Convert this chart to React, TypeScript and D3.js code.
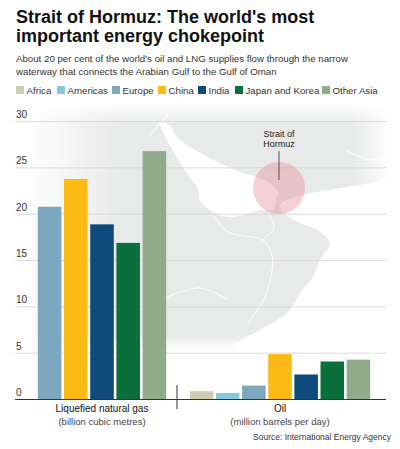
import React from 'react';
import * as d3 from 'd3';

const categories = ['Africa', 'Americas', 'Europe', 'China', 'India', 'Japan and Korea', 'Other Asia'];
const colors = ['#cfccb2', '#86c9dc', '#7da6bf', '#fcbb14', '#0e4a7b', '#0a6f3b', '#8fab89'];

// LNG, billion cubic metres (no Africa / Americas bars)
const lngCategories = ['Europe', 'China', 'India', 'Japan and Korea', 'Other Asia'];
const lngValues = [20.8, 23.8, 18.9, 16.9, 26.8];

// Oil, million barrels per day
const oilCategories = categories;
const oilValues = [0.9, 0.7, 1.5, 4.9, 2.7, 4.1, 4.3];

const yTicks = [0, 5, 10, 15, 20, 25, 30];

const FONT = '"Liberation Sans", Arial, sans-serif';

const W = 400;
const H = 449;

const colorOf = d3.scaleOrdinal<string, string>().domain(categories).range(colors);

// rough decorative map of the Gulf region (pixel space)
const persianGulf: [number, number][] = [
  [160, 122], [170, 126], [177, 137], [200, 153], [220, 163], [240, 172], [257, 177],
  [270, 183], [278, 192], [276, 200], [273, 210], [260, 210], [243, 215], [227, 217],
  [210, 210], [200, 200], [197, 187], [190, 178], [183, 167], [167, 140],
];
const omanSea: [number, number][] = [
  [280, 205], [292, 198], [307, 194], [340, 188], [367, 184], [398, 181], [398, 362],
  [222, 362], [240, 341], [260, 330], [287, 313], [300, 293], [313, 277], [320, 260],
  [330, 243], [317, 230], [300, 223], [285, 214],
];
const borders: [number, number][][] = [
  [[212, 213], [228, 232], [262, 240], [272, 255], [266, 295], [248, 322]],
  [[165, 298], [200, 288], [228, 300]],
  [[150, 135], [170, 112]],
  [[268, 213], [274, 228], [262, 240]],
  [[345, 150], [372, 160], [395, 150]],
];

const App: React.FC = () => {
  const y = d3.scaleLinear().domain([0, 30]).range([399.5, 121.5]);
  const xLng = d3.scaleBand<string>().domain(lngCategories).range([36.5, 167.5]).paddingInner(0.1).paddingOuter(0.05);
  const xOil = d3.scaleBand<string>().domain(oilCategories).range([188.5, 371.5]).paddingInner(0.1).paddingOuter(0.05);
  const line = d3.line<[number, number]>().curve(d3.curveCatmullRom);
  const poly = d3.line<[number, number]>().curve(d3.curveCatmullRomClosed);

  // legend positions measured along the row
  const legendX = [16, 57, 112, 158, 198, 235, 322];

  return (
    <svg width={W} height={H} style={{ position: 'absolute', left: 0, top: 0, display: 'block' }} fontFamily={FONT}>
      <defs>
        <linearGradient id="fadeH" x1="0" x2="1" y1="0" y2="0">
          <stop offset="0.06" stopColor="#fff" stopOpacity={0} />
          <stop offset="0.3" stopColor="#fff" stopOpacity={1} />
          <stop offset="0.88" stopColor="#fff" stopOpacity={1} />
          <stop offset="0.98" stopColor="#fff" stopOpacity={0} />
        </linearGradient>
        <linearGradient id="fadeV" x1="0" x2="0" y1="0" y2="1">
          <stop offset="0" stopColor="#fff" stopOpacity={0} />
          <stop offset="0.08" stopColor="#fff" stopOpacity={1} />
          <stop offset="0.94" stopColor="#fff" stopOpacity={1} />
          <stop offset="1" stopColor="#fff" stopOpacity={0} />
        </linearGradient>
        <mask id="maskH" maskUnits="userSpaceOnUse" x="0" y="0" width={W} height={H}>
          <rect x={0} y={0} width={W} height={H} fill="url(#fadeH)" />
        </mask>
        <mask id="maskV" maskUnits="userSpaceOnUse" x="0" y="0" width={W} height={H}>
          <rect x={0} y={104} width={W} height={246} fill="url(#fadeV)" />
        </mask>
      </defs>

      <rect x={0} y={0} width={W} height={H} fill="#fff" />

      {/* title */}
      <text x={16} y={23} fontSize={18} fontWeight="bold" fill="#111">Strait of Hormuz: The world's most</text>
      <text x={16} y={41.5} fontSize={18} fontWeight="bold" fill="#111">important energy chokepoint</text>
      <text x={16} y={61.5} fontSize={9.7} fill="#333">About 20 per cent of the world's oil and LNG supplies flow through the narrow</text>
      <text x={16} y={74.5} fontSize={9.7} fill="#333">waterway that connects the Arabian Gulf to the Gulf of Oman</text>

      {/* legend */}
      {categories.map((c, i) => (
        <g key={c} transform={`translate(${legendX[i]},0)`}>
          <rect x={0} y={86} width={8} height={8} fill={colorOf(c)} />
          <text x={10.5} y={93.8} fontSize={9.7} fill="#333">{c}</text>
        </g>
      ))}

      {/* map backdrop */}
      <g mask="url(#maskV)">
        <g mask="url(#maskH)">
          <rect x={15} y={104} width={383} height={246} fill="#e8e9e9" />
          <path d={poly(persianGulf) || ''} fill="#fff" />
          <path d={poly(omanSea) || ''} fill="#fff" />
          {borders.map((b, i) => (
            <path key={i} d={line(b) || ''} fill="none" stroke="#fff" strokeWidth={1} />
          ))}
        </g>
      </g>

      {/* grid */}
      {yTicks.filter(t => t > 0).map(t => (
        <g key={t}>
          <line x1={15} x2={386} y1={y(t)} y2={y(t)} stroke="#d2d2d2" strokeWidth={0.8} />
          <text x={16} y={y(t) - 3.5} fontSize={10} fill="#333">{t}</text>
        </g>
      ))}
      <text x={16} y={y(0) - 3.5} fontSize={10} fill="#333">0</text>

      {/* strait highlight */}
      <circle cx={279} cy={188} r={26} fill="#e58a94" fillOpacity={0.4} />
      <line x1={279} x2={279} y1={151} y2={180} stroke="#333" strokeWidth={0.8} />
      <text x={279} y={137} fontSize={9} fill="#222" textAnchor="middle">Strait of</text>
      <text x={279} y={147} fontSize={9} fill="#222" textAnchor="middle">Hormuz</text>

      {/* LNG bars */}
      {lngCategories.map((c, i) => (
        <rect key={c} x={xLng(c)} y={y(lngValues[i])} width={xLng.bandwidth()} height={y(0) - y(lngValues[i])} fill={colorOf(c)} />
      ))}

      {/* oil bars */}
      {oilCategories.map((c, i) => (
        <rect key={c} x={xOil(c)} y={y(oilValues[i])} width={xOil.bandwidth()} height={y(0) - y(oilValues[i])} fill={colorOf(c)} />
      ))}

      {/* baseline & divider */}
      <line x1={15} x2={386} y1={y(0)} y2={y(0)} stroke="#333" strokeWidth={1} />
      <line x1={177} x2={177} y1={385} y2={409} stroke="#333" strokeWidth={1} />

      {/* group labels */}
      <text x={102} y={412} fontSize={10} fill="#111" textAnchor="middle">Liquefied natural gas</text>
      <text x={102} y={425} fontSize={9.5} fill="#444" textAnchor="middle">(billion cubic metres)</text>
      <text x={280} y={412} fontSize={10} fill="#111" textAnchor="middle">Oil</text>
      <text x={280} y={425} fontSize={9.5} fill="#444" textAnchor="middle">(million barrels per day)</text>

      <text x={391} y={440} fontSize={8.5} fill="#333" textAnchor="end">Source: International Energy Agency</text>
    </svg>
  );
};

export default App;
